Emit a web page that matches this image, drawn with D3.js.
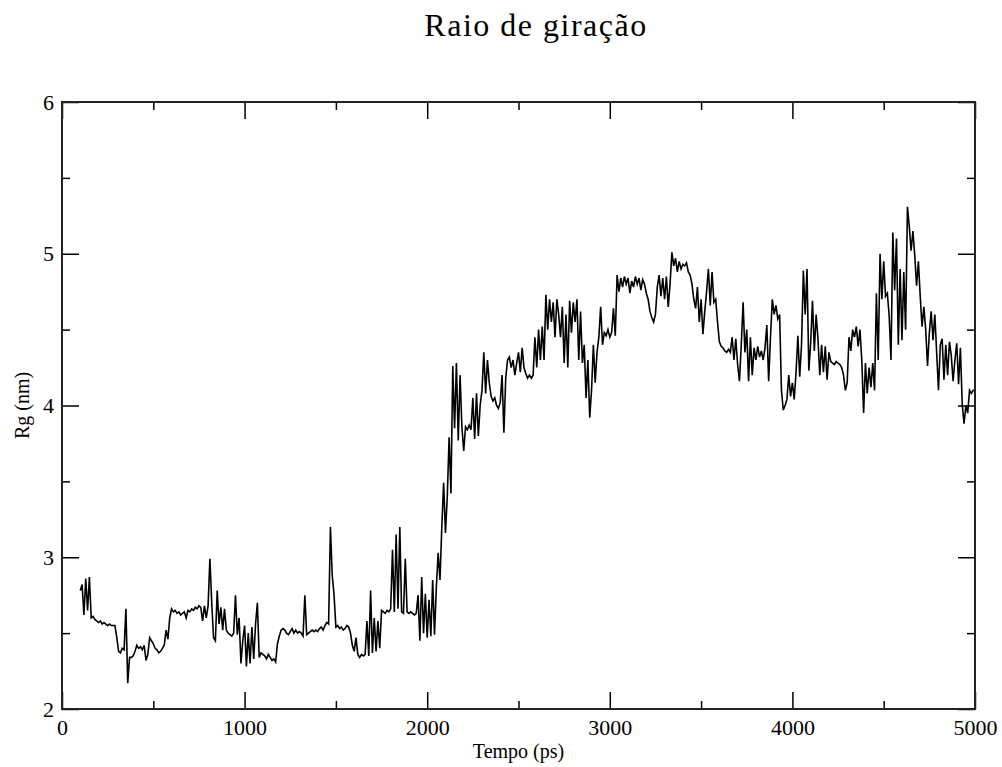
<!DOCTYPE html>
<html>
<head>
<meta charset="utf-8">
<script src="https://cdn.jsdelivr.net/npm/d3@7"></script>
<style>
  body { margin: 0; background: #fff; }
  svg text { font-family: "Liberation Serif", "DejaVu Serif", serif; fill: #000; }
</style>
</head>
<body>
<svg id="chart" width="1002" height="767"></svg>
<script>
// Raio de giração (nm), one value every 10 ps from 100 ps to 5000 ps
const t0 = 100, dt = 10;
const rg = [
  2.78, 2.82, 2.62, 2.86, 2.65, 2.87, 2.60, 2.61, 2.59, 2.58,
  2.57, 2.58, 2.56, 2.57, 2.56, 2.55, 2.56, 2.55, 2.55, 2.55,
  2.47, 2.38, 2.37, 2.40, 2.39, 2.66, 2.17, 2.34, 2.34, 2.35,
  2.38, 2.42, 2.40, 2.41, 2.39, 2.42, 2.32, 2.36, 2.47, 2.45,
  2.43, 2.40, 2.39, 2.37, 2.38, 2.40, 2.42, 2.52, 2.46, 2.60,
  2.66, 2.64, 2.65, 2.63, 2.64, 2.62, 2.63, 2.64, 2.60, 2.65,
  2.64, 2.66, 2.65, 2.67, 2.66, 2.68, 2.67, 2.58, 2.68, 2.60,
  2.68, 2.99, 2.70, 2.47, 2.45, 2.78, 2.56, 2.67, 2.52, 2.66,
  2.52, 2.50, 2.49, 2.48, 2.50, 2.75, 2.49, 2.60, 2.30, 2.45,
  2.55, 2.28, 2.50, 2.30, 2.54, 2.33, 2.56, 2.70, 2.34, 2.37,
  2.36, 2.35, 2.33, 2.36, 2.34, 2.32, 2.33, 2.31, 2.43, 2.48,
  2.52, 2.53, 2.52, 2.50, 2.49, 2.51, 2.53, 2.50, 2.52, 2.50,
  2.51, 2.50, 2.48, 2.75, 2.49, 2.50, 2.51, 2.52, 2.51, 2.52,
  2.51, 2.53, 2.54, 2.52, 2.55, 2.57, 2.56, 3.20, 2.88, 2.75,
  2.54, 2.55, 2.53, 2.54, 2.52, 2.53, 2.55, 2.54, 2.50, 2.42,
  2.38, 2.47, 2.36, 2.34, 2.36, 2.35, 2.36, 2.58, 2.35, 2.78,
  2.37, 2.60, 2.38, 2.58, 2.40, 2.65, 2.64, 2.63, 2.65, 2.64,
  2.66, 3.05, 2.64, 3.15, 2.66, 3.20, 2.64, 2.63, 2.99, 2.64,
  2.63, 2.64, 2.63, 2.62, 2.63, 2.75, 2.45, 2.87, 2.50, 2.76,
  2.47, 2.72, 2.48, 2.85, 2.49, 2.80, 3.03, 2.85, 3.20, 3.49,
  3.16, 3.40, 3.79, 3.42, 4.26, 3.85, 4.28, 3.77, 4.20, 3.86,
  3.70, 3.86, 3.84, 3.87, 3.84, 4.05, 3.78, 4.08, 3.80, 4.00,
  4.10, 4.35, 4.08, 4.30, 4.15, 4.06, 4.03, 4.05, 4.00, 3.98,
  4.02, 4.20, 3.82, 4.18, 4.30, 4.32, 4.25, 4.30, 4.20, 4.28,
  4.35, 4.22, 4.38, 4.25, 4.21, 4.18, 4.20, 4.18, 4.20, 4.45,
  4.25, 4.50, 4.30, 4.52, 4.30, 4.73, 4.50, 4.70, 4.55, 4.68,
  4.45, 4.70, 4.60, 4.45, 4.65, 4.28, 4.60, 4.25, 4.69, 4.48,
  4.68, 4.55, 4.70, 4.30, 4.62, 4.28, 4.40, 4.05, 4.30, 3.92,
  4.10, 4.40, 4.15, 4.35, 4.45, 4.65, 4.40, 4.48, 4.46, 4.50,
  4.45, 4.48, 4.64, 4.46, 4.86, 4.75, 4.84, 4.78, 4.85, 4.80,
  4.84, 4.74, 4.82, 4.78, 4.85, 4.80, 4.84, 4.76, 4.83, 4.80,
  4.74, 4.70, 4.62, 4.58, 4.55, 4.60, 4.78, 4.86, 4.72, 4.84,
  4.70, 4.85, 4.65, 4.80, 5.01, 4.92, 4.97, 4.88, 4.95, 4.90,
  4.93, 4.92, 4.94, 4.88, 4.86, 4.80, 4.70, 4.64, 4.78, 4.55,
  4.70, 4.47, 4.62, 4.75, 4.90, 4.66, 4.88, 4.68, 4.70, 4.55,
  4.42, 4.39, 4.38, 4.36, 4.35, 4.37, 4.35, 4.45, 4.30, 4.44,
  4.27, 4.16, 4.40, 4.68, 4.35, 4.50, 4.16, 4.45, 4.20, 4.38,
  4.30, 4.39, 4.32, 4.36, 4.30, 4.38, 4.53, 4.16, 4.45, 4.70,
  4.60, 4.66, 4.57, 4.60, 4.10, 3.97, 4.00, 4.04, 4.20, 4.06,
  4.15, 4.04, 4.22, 4.46, 4.19, 4.40, 4.89, 4.60, 4.90, 4.23,
  4.41, 4.69, 4.36, 4.60, 4.44, 4.20, 4.40, 4.22, 4.39, 4.17,
  4.35, 4.29, 4.28, 4.27, 4.29, 4.28, 4.27, 4.25, 4.20, 4.10,
  4.15, 4.45, 4.36, 4.50, 4.45, 4.52, 4.39, 4.50, 4.30, 3.95,
  4.28, 4.08, 4.25, 4.12, 4.28, 4.10, 4.74, 4.30, 5.00, 4.70,
  4.95, 4.72, 4.74, 4.59, 4.30, 5.14, 4.76, 5.10, 4.40, 4.90,
  4.43, 4.88, 4.50, 5.31, 5.18, 5.02, 5.15, 4.99, 4.79, 4.95,
  4.72, 4.52, 4.65, 4.50, 4.26, 4.48, 4.62, 4.43, 4.60, 4.35,
  4.10, 4.40, 4.44, 4.17, 4.40, 4.20, 4.42, 4.33, 4.16, 4.30,
  4.41, 4.14, 4.38, 4.01, 3.88, 4.00, 3.95, 4.10, 4.08, 4.10,
  4.10
];

const xMajor = [0, 1000, 2000, 3000, 4000, 5000];
const xMinor = [500, 1500, 2500, 3500, 4500];
const yMajor = [2, 3, 4, 5, 6];
const yMinor = [2.5, 3.5, 4.5, 5.5];

const svg = d3.select("#chart"),
    margin = {top: 102, right: 27, bottom: 58, left: 62},
    width = +svg.attr("width"),
    height = +svg.attr("height");

const x = d3.scaleLinear()
    .domain([0, 5000])
    .range([margin.left, width - margin.right]);

const y = d3.scaleLinear()
    .domain([2, 6])
    .range([height - margin.bottom, margin.top]);

const majorLen = 17, minorLen = 8;
const fmt = d3.format("d");

// bottom + top axes (ticks pointing inward)
svg.append("g")
    .attr("class", "axis")
    .attr("transform", "translate(0," + y(2) + ")")
    .call(d3.axisBottom(x).tickValues(xMajor).tickSize(-majorLen).tickPadding(10).tickFormat(fmt));
svg.append("g")
    .attr("transform", "translate(0," + y(2) + ")")
    .call(d3.axisBottom(x).tickValues(xMinor).tickSize(-minorLen).tickFormat(""));
svg.append("g")
    .attr("transform", "translate(0," + y(6) + ")")
    .call(d3.axisTop(x).tickValues(xMajor).tickSize(-majorLen).tickFormat(""));
svg.append("g")
    .attr("transform", "translate(0," + y(6) + ")")
    .call(d3.axisTop(x).tickValues(xMinor).tickSize(-minorLen).tickFormat(""));

// left + right axes
svg.append("g")
    .attr("class", "axis")
    .attr("transform", "translate(" + x(0) + ",0)")
    .call(d3.axisLeft(y).tickValues(yMajor).tickSize(-majorLen).tickPadding(8).tickFormat(fmt));
svg.append("g")
    .attr("transform", "translate(" + x(0) + ",0)")
    .call(d3.axisLeft(y).tickValues(yMinor).tickSize(-minorLen).tickFormat(""));
svg.append("g")
    .attr("transform", "translate(" + x(5000) + ",0)")
    .call(d3.axisRight(y).tickValues(yMajor).tickSize(-majorLen).tickFormat(""));
svg.append("g")
    .attr("transform", "translate(" + x(5000) + ",0)")
    .call(d3.axisRight(y).tickValues(yMinor).tickSize(-minorLen).tickFormat(""));

svg.selectAll(".domain").remove();
svg.selectAll(".tick line").attr("stroke", "#000").attr("stroke-width", 1.5);
svg.selectAll(".axis text")
    .style("font-family", '"Liberation Serif", serif')
    .style("font-size", "22px")
    .attr("fill", "#000");

// the data
const line = d3.line()
    .x((d, i) => x(t0 + i * dt))
    .y(d => y(d));

svg.append("path")
    .datum(rg)
    .attr("fill", "none")
    .attr("stroke", "#000")
    .attr("stroke-width", 1.6)
    .attr("stroke-linejoin", "miter")
    .attr("d", line);

// frame
svg.append("rect")
    .attr("x", x(0))
    .attr("y", y(6))
    .attr("width", x(5000) - x(0))
    .attr("height", y(2) - y(6))
    .attr("fill", "none")
    .attr("stroke", "#222")
    .attr("stroke-width", 2);

// titles
svg.append("text")
    .attr("x", 536)
    .attr("y", 36)
    .attr("text-anchor", "middle")
    .style("font-size", "32px")
    .style("letter-spacing", "1.5px")
    .text("Raio de giração");

svg.append("text")
    .attr("x", (x(0) + x(5000)) / 2)
    .attr("y", 758)
    .attr("text-anchor", "middle")
    .style("font-size", "20px")
    .text("Tempo (ps)");

svg.append("text")
    .attr("transform", "translate(29," + y(4) + ") rotate(-90)")
    .attr("text-anchor", "middle")
    .style("font-size", "20px")
    .text("Rg (nm)");
</script>
</body>
</html>
